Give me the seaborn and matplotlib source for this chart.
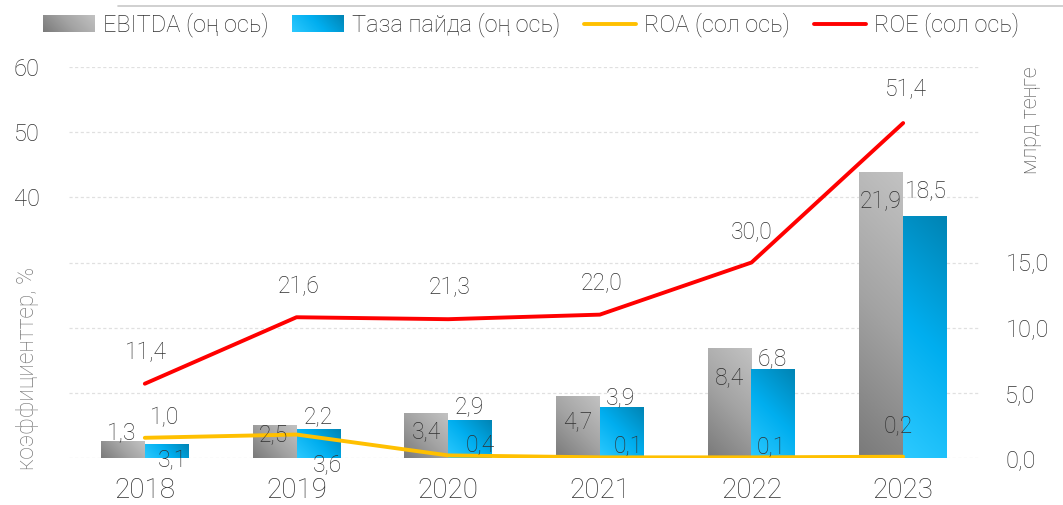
import matplotlib
matplotlib.use("Agg")
import matplotlib.pyplot as plt
import numpy as np
import pandas as pd
import seaborn as sns
from matplotlib.colors import LinearSegmentedColormap
from matplotlib.legend_handler import HandlerBase
from matplotlib.image import BboxImage
from matplotlib.transforms import Bbox, TransformedBbox
from matplotlib.lines import Line2D
from matplotlib.patches import Patch

# data
years = ["2018", "2019", "2020", "2021", "2022", "2023"]
ebitda = [1.3, 2.5, 3.4, 4.7, 8.4, 21.9]
net_profit = [1.0, 2.2, 2.9, 3.9, 6.8, 18.5]
roa = [3.1, 3.6, 0.4, 0.1, 0.1, 0.2]
roe = [11.4, 21.6, 21.3, 22.0, 30.0, 51.4]

series_names = ["EBITDA (оң ось)", "Таза пайда (оң ось)", "ROA (сол ось)", "ROE (сол ось)"]
left_ticks = [40, 50, 60]
right_ticks = [0, 5, 10, 15, 20, 25, 30]
right_tick_labels = ["0,0", "5,0", "10,0", "15,0", "", "", ""]

# label offsets in pixels (dx, dy), placed by hand like in the original
ebitda_off = [(-1, 7), (-1, -9), (0, -18), (0, -25), (0, -29), (0, -29)]
profit_off = [(-2, 27), (0, 13), (-1, 14), (-1, 10), (-1, 11), (1, 25)]
roe_off = [(1, 31), (2, 31), (2, 32), (2, 32), (0, 31), (3, 33)]
roa_off = [(28, -23), (31, -30), (32, 11), (28, 11), (20, 10), (-5, 31)]

GRAY = "#a0a0a0"
BLUE = "#00aeef"
TXT = "#303030"
gray_cmap = LinearSegmentedColormap.from_list("g", ["#7a7a7a", "#a3a3a3", "#c2c2c2"])
blue_cmap = LinearSegmentedColormap.from_list("b", ["#2cc9ff", "#00aeef", "#0084b4"])


def fmt(v):
    return f"{v:.1f}".replace(".", ",")


def pixel_gradient(w_px, h_px, n=80):
    xs = np.linspace(0, 1, n)
    ys = np.linspace(0, 1, n)
    X, Y = np.meshgrid(xs, ys)
    return (X * w_px + Y * h_px) / (w_px + h_px)


class GradientHandler(HandlerBase):
    def __init__(self, cmap):
        super().__init__()
        self.cmap = cmap

    def create_artists(self, legend, orig_handle, xdescent, ydescent, width, height, fontsize, trans):
        bb = Bbox.from_bounds(-xdescent, -ydescent, width, height)
        img = BboxImage(TransformedBbox(bb, trans), cmap=self.cmap, interpolation="bicubic", origin="lower")
        img.set_data(pixel_gradient(width, height))
        img.set_clim(0, 1)
        return [img]


sns.set_theme(style="white")
plt.rcParams["font.family"] = ["Roboto", "DejaVu Sans"]
plt.rcParams["font.weight"] = "light"

fig = plt.figure(figsize=(10.63, 5.05), dpi=100)
ax = fig.add_axes([69 / 1063, 47 / 505, 910 / 1063, 391 / 505])
ax2 = ax.twinx()

df = pd.DataFrame({
    "year": years * 2,
    "value": ebitda + net_profit,
    "series": [series_names[0]] * len(years) + [series_names[1]] * len(years),
})
sns.barplot(data=df, x="year", y="value", hue="series", ax=ax2, palette=[GRAY, BLUE],
            width=0.58, gap=0, saturation=1, legend=False, linewidth=0)

ax.set_xlim(-0.5, 5.5)
ax.set_ylim(0, 60)
ax2.set_ylim(0, 30)

# gradient fill for bars
fig.canvas.draw()
for container, cmap in zip(ax2.containers, [gray_cmap, blue_cmap]):
    for bar in container:
        x0, y0, w, h = bar.get_x(), bar.get_y(), bar.get_width(), bar.get_height()
        p0 = ax2.transData.transform((x0, y0))
        p1 = ax2.transData.transform((x0 + w, y0 + h))
        grad = pixel_gradient(p1[0] - p0[0], p1[1] - p0[1])
        ax2.imshow(grad, extent=[x0, x0 + w, y0, y0 + h], origin="lower", cmap=cmap,
                   vmin=0, vmax=1, aspect="auto", interpolation="bicubic", zorder=2)
        bar.set_facecolor("none")

ax.set_xlim(-0.5, 5.5)
ax2.set_ylim(0, 30)

# lines on left axis
xpos = np.arange(len(years))
sns.lineplot(x=xpos, y=roa, ax=ax, color="#ffc000", linewidth=2.8)
sns.lineplot(x=xpos, y=roe, ax=ax, color="#ff0000", linewidth=2.8)
ax.set_zorder(ax2.get_zorder() + 1)
ax.patch.set_visible(False)

# axes styling
ax.set_xticks(xpos, years)
ax.set_yticks(left_ticks)
ax.set_ylim(0, 60)
ax.set_xlabel("")
ax.set_ylabel("")
ax2.set_ylabel("")
ax2.set_xlabel("")
ax2.set_yticks(right_ticks, right_tick_labels)
ax.tick_params(axis="x", length=0, pad=14, labelsize=20, labelcolor=TXT)
ax.tick_params(axis="y", length=0, pad=21, labelsize=17, labelcolor=TXT)
ax2.tick_params(axis="y", length=0, pad=19, labelsize=17, labelcolor=TXT)
ax.grid(False)
ax2.grid(False)
ax2.yaxis.grid(True, color="#e0e0e0", linestyle=(0, (2.5, 2)), linewidth=0.9)
ax2.set_axisbelow(True)
for a in (ax, ax2):
    for s in a.spines.values():
        s.set_visible(False)

# data labels
lab_kw = dict(textcoords="offset pixels", ha="center", va="center", fontsize=16.5,
              color=TXT, fontweight="light", zorder=10)
for bar, v, off in zip(ax2.containers[0], ebitda, ebitda_off):
    ax.annotate(fmt(v), (bar.get_x() + bar.get_width() / 2, v), xycoords=ax2.transData,
                xytext=off, **lab_kw)
for bar, v, off in zip(ax2.containers[1], net_profit, profit_off):
    ax.annotate(fmt(v), (bar.get_x() + bar.get_width() / 2, v), xycoords=ax2.transData,
                xytext=off, **lab_kw)
for i, (v, off) in enumerate(zip(roe, roe_off)):
    ax.annotate(fmt(v), (i, v), xytext=off, **lab_kw)
for i, (v, off) in enumerate(zip(roa, roa_off)):
    ax.annotate(fmt(v), (i, v), xytext=off, **lab_kw)

# axis titles
fig.text(28 / 1063, 1 - 368 / 505, "коэффициенттер, %", rotation=90, ha="center", va="center",
         fontsize=16.5, color="#7a7a7a", fontweight="light")
fig.text(1032 / 1063, 1 - 120 / 505, "млрд теңге", rotation=90, ha="center", va="center",
         fontsize=15.5, color="#505050", fontweight="light")

# legend
h_ebitda = Patch(color=GRAY)
h_profit = Patch(color=BLUE)
h_roa = Line2D([], [], color="#ffc000", linewidth=2.8)
h_roe = Line2D([], [], color="#ff0000", linewidth=2.8)
leg = fig.legend(handles=[h_ebitda, h_profit, h_roa, h_roe], labels=series_names,
                 handler_map={h_ebitda: GradientHandler(gray_cmap), h_profit: GradientHandler(blue_cmap)},
                 ncol=4, loc="center", bbox_to_anchor=(531 / 1063, 1 - 25 / 505), frameon=False,
                 handlelength=2.2, handletextpad=0.35, columnspacing=1.0,
                 prop={"size": 17, "weight": "light"})
for t in leg.get_texts():
    t.set_color(TXT)

fig.add_artist(Line2D([118 / 1063, 1], [1 - 6 / 505, 1 - 6 / 505], color="#c8c8c8", linewidth=1.2))

fig.savefig("out.png", dpi=100)
